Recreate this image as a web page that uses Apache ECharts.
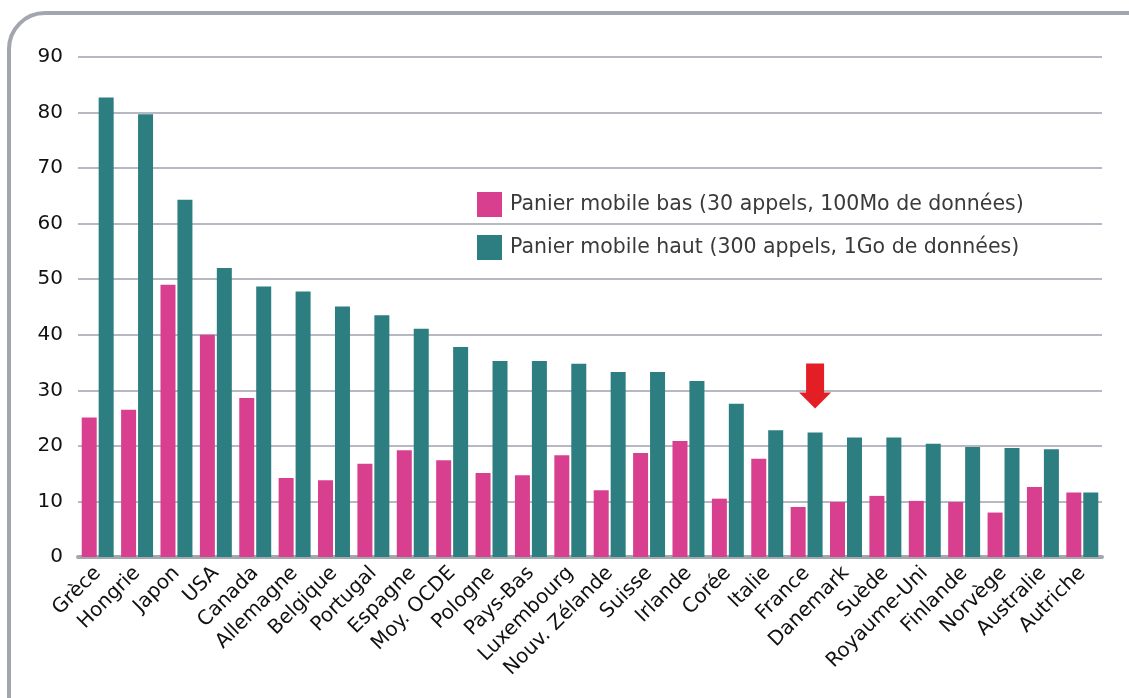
<!DOCTYPE html>
<html>
<head>
<meta charset="utf-8">
<script src="https://cdn.jsdelivr.net/npm/echarts@6/dist/echarts.min.js"></script>
<style>
  html, body { margin: 0; padding: 0; background: #fff; }
  #chart { width: 1129px; height: 698px; }
</style>
</head>
<body>
<div id="chart"></div>
<script>
var countries = ['Grèce', 'Hongrie', 'Japon', 'USA', 'Canada', 'Allemagne', 'Belgique', 'Portugal',
  'Espagne', 'Moy. OCDE', 'Pologne', 'Pays-Bas', 'Luxembourg', 'Nouv. Zélande', 'Suisse', 'Irlande',
  'Corée', 'Italie', 'France', 'Danemark', 'Suède', 'Royaume-Uni', 'Finlande', 'Norvège', 'Australie', 'Autriche'];

var panierBas = [25.1, 26.5, 49.0, 40.0, 28.6, 14.2, 13.8, 16.8, 19.2, 17.4, 15.1, 14.7, 18.3,
  12.0, 18.7, 20.9, 10.5, 17.7, 9.0, 9.9, 11.0, 10.1, 9.9, 8.0, 12.6, 11.6];

var panierHaut = [82.7, 79.7, 64.3, 52.0, 48.7, 47.8, 45.1, 43.5, 41.1, 37.8, 35.3, 35.3, 34.8,
  33.3, 33.3, 31.7, 27.6, 22.8, 22.4, 21.5, 21.5, 20.4, 19.8, 19.6, 19.4, 11.6];

var seriesNames = ['Panier mobile bas (30 appels, 100Mo de données)', 'Panier mobile haut (300 appels, 1Go de données)'];
var yTicks = { min: 0, max: 90, interval: 10 };
var highlighted = 'France';

var chart = echarts.init(document.getElementById('chart'));

var option = {
  animation: false,
  textStyle: { fontFamily: 'DejaVu Sans' },
  graphic: [{
    type: 'rect',
    shape: { x: 9, y: 13, width: 1160, height: 730, r: 36 },
    style: { fill: 'none', stroke: '#a3a6ae', lineWidth: 4 },
    z: -1
  }],
  grid: { left: 78, right: 27, top: 57, bottom: 141 },
  legend: {
    left: 477,
    top: 192,
    padding: 0,
    orient: 'vertical',
    icon: 'rect',
    itemWidth: 25,
    itemHeight: 25,
    itemGap: 18,
    itemStyle: { borderWidth: 0 },
    textStyle: { fontSize: 20.5, color: '#3a3a3a', padding: [0, 0, 0, 3] },
    data: seriesNames
  },
  xAxis: {
    type: 'category',
    data: countries,
    axisTick: { show: false },
    axisLine: { lineStyle: { color: '#a3a7ae', width: 4 } },
    axisLabel: { rotate: 45, margin: 13, fontSize: 20, color: '#111', interval: 0 }
  },
  yAxis: {
    type: 'value',
    min: yTicks.min,
    max: yTicks.max,
    interval: yTicks.interval,
    axisLine: { show: false },
    axisTick: { show: false },
    axisLabel: { fontSize: 20, color: '#111', margin: 15 },
    splitLine: { lineStyle: { color: '#b6b9c4', width: 2 } }
  },
  series: [
    {
      name: seriesNames[0],
      type: 'bar',
      data: panierBas,
      barWidth: 15,
      barGap: '13%',
      itemStyle: { color: '#d8408f' }
    },
    {
      name: seriesNames[1],
      type: 'bar',
      data: panierHaut,
      barWidth: 15,
      itemStyle: { color: '#2c7e80' },
      markPoint: {
        silent: true,
        label: { show: false },
        itemStyle: { color: '#e41e25' },
        data: [{
          coord: [highlighted, 30.8],
          symbol: 'path://M7,0 L25,0 L25,29 L32,29 L16,45 L0,29 L7,29 Z',
          symbolSize: [32, 45]
        }]
      }
    }
  ]
};

chart.setOption(option);
</script>
</body>
</html>
